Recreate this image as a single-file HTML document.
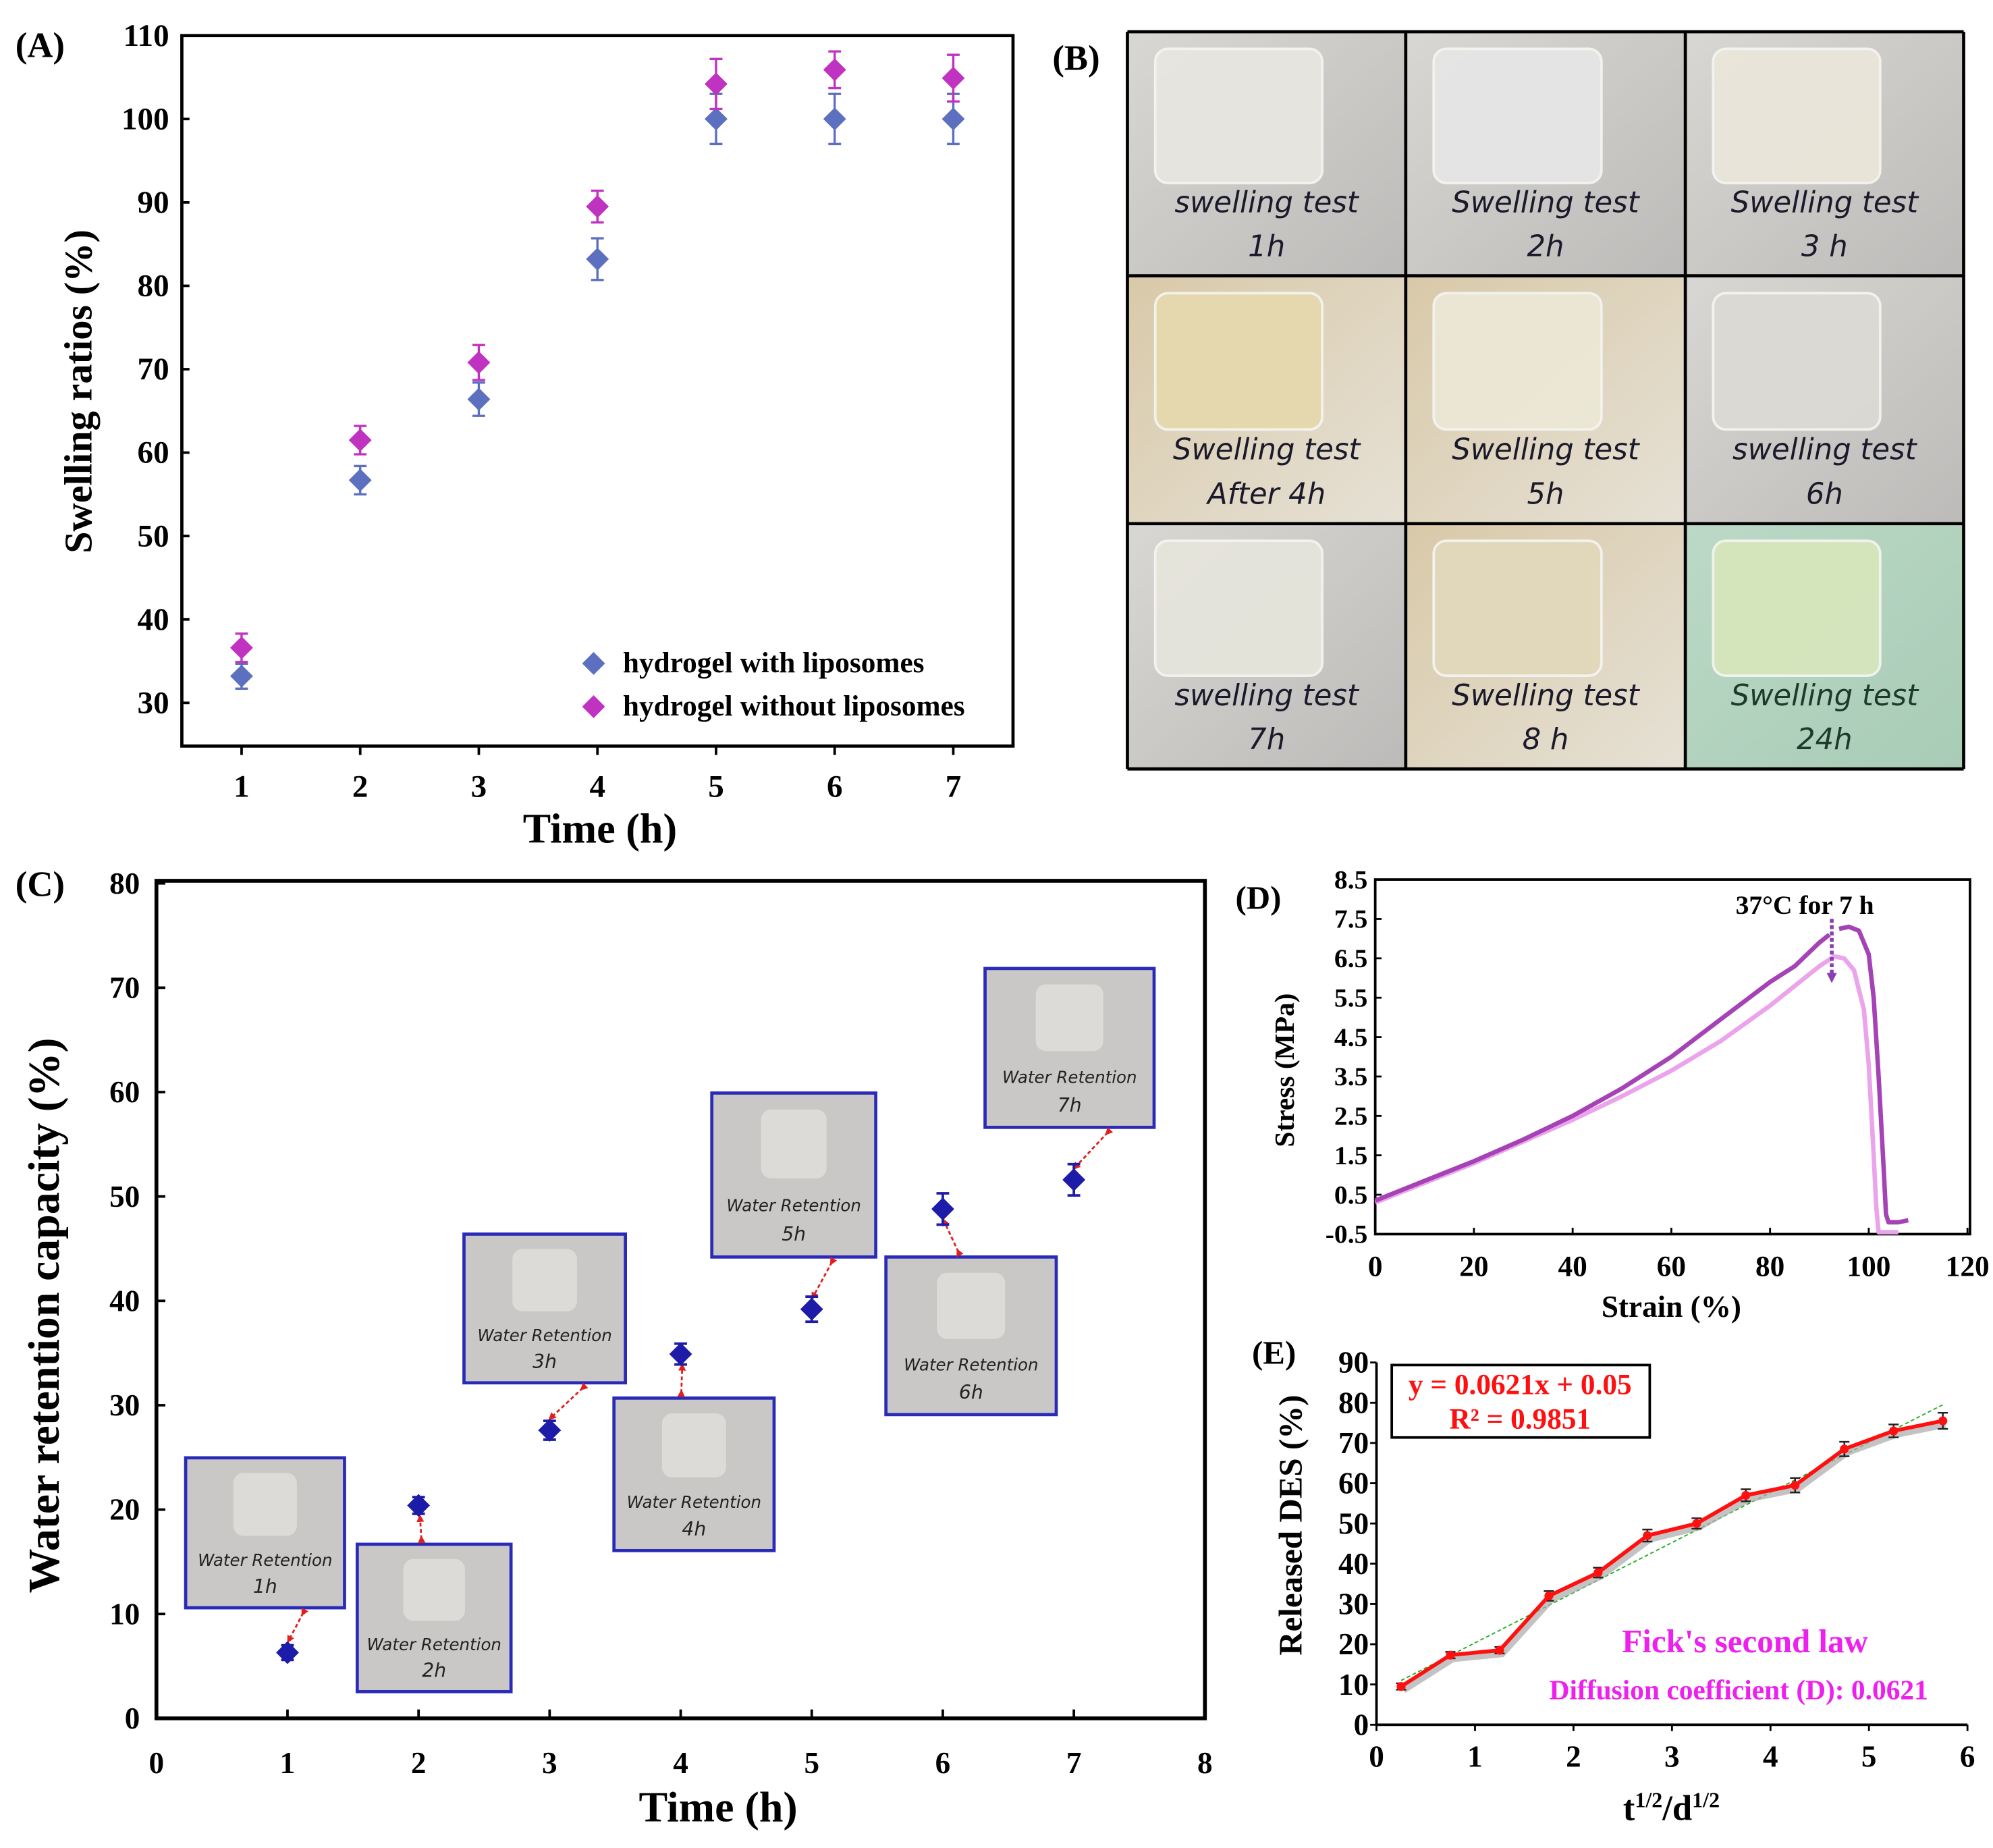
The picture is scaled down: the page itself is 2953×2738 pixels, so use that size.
<!DOCTYPE html>
<html><head><meta charset="utf-8">
<style>
html,body{margin:0;padding:0;background:#fff;}
svg{display:block;font-family:"Liberation Serif",serif;font-weight:bold;}
</style></head>
<body>
<svg id="fig" width="2953" height="2738" viewBox="0 0 1568 1454" xmlns="http://www.w3.org/2000/svg">
<defs>
<linearGradient id="gGray" x1="0" y1="0" x2="1" y2="1"><stop offset="0" stop-color="#d9d7d3"/><stop offset="1" stop-color="#bdbbb9"/></linearGradient>
<linearGradient id="gBeige" x1="0" y1="0" x2="1" y2="1"><stop offset="0" stop-color="#d8c9a8"/><stop offset="1" stop-color="#e6e1d6"/></linearGradient>
<linearGradient id="gGreen" x1="0" y1="0" x2="1" y2="1"><stop offset="0" stop-color="#bcd9c6"/><stop offset="1" stop-color="#a8ccb6"/></linearGradient>
<marker id="arr" markerUnits="userSpaceOnUse" markerWidth="6" markerHeight="6" refX="3" refY="3" orient="auto"><path d="M0,0 L6,3 L0,6 z" fill="#e02020"/></marker>
<marker id="arrP" markerUnits="userSpaceOnUse" markerWidth="8" markerHeight="8" refX="4" refY="4" orient="auto"><path d="M0,0 L8,4 L0,8 z" fill="#8a3fb0"/></marker>
</defs>
<g id="pA"></g>
<g id="pB"></g>
<g id="pC"></g>
<g id="pD"></g>
<g id="pE"></g>
</svg>
<script>
// ---- Panel A data
const aTimes = [1,2,3,4,5,6,7];
const aWith = [33.2,56.7,66.4,83.2,100,100,100];
const aWithErr = [1.5,1.7,2.0,2.5,3.0,3.0,3.0];
const aWithout = [36.6,61.5,70.8,89.5,104.2,105.9,104.9];
const aWithoutErr = [1.7,1.7,2.1,1.9,3.0,2.2,2.8];
const aYTicks = [30,40,50,60,70,80,90,100,110];
// ---- Panel B labels
const bLabels = [["swelling test","1h"],["Swelling test","2h"],["Swelling test","3 h"],["Swelling test","After 4h"],["Swelling test","5h"],["swelling test","6h"],["swelling test","7h"],["Swelling test","8 h"],["Swelling test","24h"]];
// ---- Panel C data
const cTimes = [1,2,3,4,5,6,7];
const cValues = [6.3,20.4,27.6,34.9,39.2,48.8,51.6];
const cErr = [0.7,0.8,0.9,1.0,1.2,1.5,1.5];
const cYTicks = [0,10,20,30,40,50,60,70,80];
const cXTicks = [0,1,2,3,4,5,6,7,8];
const cPhotoLabels = ["1h","2h","3h","4h","5h","6h","7h"];
// ---- Panel D data
const dStrainDark = [0,10,20,30,40,50,60,70,80,85,90,92];
const dStressDark = [0.35,0.85,1.35,1.9,2.5,3.2,4.0,4.95,5.9,6.3,6.9,7.1];
const dStrainDark2 = [94,96,98,100,101,102,103,103.5,104,106,108];
const dStressDark2 = [7.25,7.3,7.2,6.6,5.5,3.5,1.2,0.0,-0.2,-0.2,-0.15];
const dStrainLight = [0,10,20,30,40,50,60,70,80,85,90,93,95,97,99,100,101,101.5,102,104,106];
const dStressLight = [0.3,0.8,1.3,1.85,2.4,3.0,3.65,4.4,5.3,5.8,6.3,6.55,6.5,6.2,5.2,3.8,1.5,0.2,-0.45,-0.45,-0.45];
const dYTicks = [-0.5,0.5,1.5,2.5,3.5,4.5,5.5,6.5,7.5,8.5];
const dXTicks = [0,20,40,60,80,100,120];
// ---- Panel E data
const eX = [0.25,0.75,1.25,1.75,2.25,2.75,3.25,3.75,4.25,4.75,5.25,5.75];
const eY = [9.5,17.3,18.5,32.0,37.8,47.0,50.0,57.0,59.5,68.5,73.0,75.5];
const eErr = [0.8,0.8,0.8,1.2,1.2,1.5,1.3,1.5,1.8,1.8,1.6,2.0];
const eFitX = [0.25,5.75];
const eFitY = [11,79.5];
const eYTicks = [0,10,20,30,40,50,60,70,80,90];
const eXTicks = [0,1,2,3,4,5,6];

const NS="http://www.w3.org/2000/svg";
function mk(parent,tag,attrs,txt){const e=document.createElementNS(NS,tag);for(const k in attrs)e.setAttribute(k,attrs[k]);if(txt!==undefined)e.textContent=txt;parent.appendChild(e);return e;}
function lin(d0,d1,r0,r1){return v=>r0+(v-d0)/(d1-d0)*(r1-r0);}
function diamond(g,x,y,s,fill){return mk(g,'path',{d:`M${x},${y-s} L${x+s},${y} L${x},${y+s} L${x-s},${y} Z`,fill:fill});}
function errbar(g,x,y1,y2,w,col,sw){mk(g,'path',{d:`M${x},${y1} V${y2} M${x-w},${y1} H${x+w} M${x-w},${y2} H${x+w}`,stroke:col,'stroke-width':sw,fill:'none'});}

// ===== Panel A
(function(){
const g=document.getElementById('pA');
const L=143,T=28,R=797,B=587;
const x=lin(1,7,190,750), y=lin(30,110,553,28);
let t=mk(g,'text',{x:12,y:45,'font-size':28},'(A)');

let f=mk(g,'rect',{x:L,y:T,width:R-L,height:B-T,fill:'none',stroke:'#000','stroke-width':2.5});

aYTicks.forEach(v=>{mk(g,'line',{x1:L,x2:L+6,y1:y(v),y2:y(v),stroke:'#000','stroke-width':2});
 const e=mk(g,'text',{x:L-10,y:y(v)+8,'font-size':25,'text-anchor':'end'},v);
 });
aTimes.forEach(v=>{mk(g,'line',{x1:x(v),x2:x(v),y1:B,y2:B+7,stroke:'#000','stroke-width':2});
 const e=mk(g,'text',{x:x(v),y:627,'font-size':25,'text-anchor':'middle'},v);
 });
t=mk(g,'text',{x:472,y:663,'font-size':33,'text-anchor':'middle'},'Time (h)');

t=mk(g,'text',{x:0,y:0,'font-size':31,'text-anchor':'middle',transform:'translate(72,308) rotate(-90)'},'Swelling ratios (%)');

const cb='#5c70bf', cm='#c033c0';
aTimes.forEach((tv,i)=>{
 errbar(g,x(tv),y(aWith[i]+aWithErr[i]),y(aWith[i]-aWithErr[i]),5,cb,1.8);
 const d=diamond(g,x(tv),y(aWith[i]),9,cb);
 
 errbar(g,x(tv),y(aWithout[i]+aWithoutErr[i]),y(aWithout[i]-aWithoutErr[i]),5,cm,1.8);
 const d2=diamond(g,x(tv),y(aWithout[i]),9,cm);
 
});
let le=diamond(g,467,522,9,cb);
le=mk(g,'text',{x:490,y:529,'font-size':23},'hydrogel with liposomes');
le=diamond(g,467,556,9,cm);
le=mk(g,'text',{x:490,y:563,'font-size':23},'hydrogel without liposomes');
})();

// ===== Panel B
(function(){
const g=document.getElementById('pB');
let t=mk(g,'text',{x:828,y:55,'font-size':28},'(B)');

const xs=[887,1106,1326,1545], ys=[25,217,412,605];
const fills=['url(#gGray)','url(#gGray)','url(#gGray)','url(#gBeige)','url(#gBeige)','url(#gGray)','url(#gGray)','url(#gBeige)','url(#gGreen)'];
const gels=['#e8e6e0','#e6e6e6','#ebe6da','#e6d9ae','#ece8d6','#dcdad4','#e6e5dc','#e2d9bc','#d6e6bc'];
for(let r=0;r<3;r++)for(let c=0;c<3;c++){
 const i=r*3+c, x0=xs[c], y0=ys[r], w=xs[c+1]-xs[c], h=ys[r+1]-ys[r];
 const cell=mk(g,'g',{});
 
 
 mk(cell,'rect',{x:x0,y:y0,width:w,height:h,fill:fills[i]});
 mk(cell,'rect',{x:x0+w*0.1,y:y0+h*0.07,width:w*0.6,height:h*0.55,rx:10,fill:gels[i],stroke:'#f4f4f0','stroke-width':2,opacity:0.95});
 mk(cell,'text',{x:x0+w*0.5,y:y0+h*0.74,'font-size':23,'text-anchor':'middle','font-family':'DejaVu Sans','font-weight':'normal','font-style':'italic',fill:i==8?'#1e3a2a':'#1a1a2a'},bLabels[i][0]);
 mk(cell,'text',{x:x0+w*0.5,y:y0+h*0.92,'font-size':23,'text-anchor':'middle','font-family':'DejaVu Sans','font-weight':'normal','font-style':'italic',fill:i==8?'#1e3a2a':'#1a1a2a'},bLabels[i][1]);
}
for(let c=0;c<4;c++)mk(g,'line',{x1:xs[c],x2:xs[c],y1:25,y2:605,stroke:'#000','stroke-width':2.5});
for(let r=0;r<4;r++)mk(g,'line',{x1:887,x2:1545,y1:ys[r],y2:ys[r],stroke:'#000','stroke-width':2.5});
})();

// ===== Panel C
(function(){
const g=document.getElementById('pC');
const L=123,T=693,R=948,B=1352;
const x=lin(0,8,123,948), y=lin(0,80,1352,695);
let t=mk(g,'text',{x:12,y:705,'font-size':28},'(C)');

let f=mk(g,'rect',{x:L,y:T,width:R-L,height:B-T,fill:'none',stroke:'#000','stroke-width':3});

cYTicks.forEach(v=>{mk(g,'line',{x1:L,x2:L+7,y1:y(v),y2:y(v),stroke:'#000','stroke-width':2});
 const e=mk(g,'text',{x:L-13,y:y(v)+8,'font-size':24,'text-anchor':'end'},v);
 });
cXTicks.forEach(v=>{mk(g,'line',{x1:x(v),x2:x(v),y1:B,y2:B-7,stroke:'#000','stroke-width':2});
 const e=mk(g,'text',{x:x(v),y:1395,'font-size':24,'text-anchor':'middle'},v);
 });
t=mk(g,'text',{x:565,y:1433,'font-size':34,'text-anchor':'middle'},'Time (h)');

t=mk(g,'text',{x:0,y:0,'font-size':35,'text-anchor':'middle',transform:'translate(46,1035) rotate(-90)'},'Water retention capacity (%)');

const photos=[[146,1147,271,1265],[281,1215,402,1331],[365,971,492,1088],[483,1100,609,1220],[560,860,689,989],[697,989,831,1113],[775,762,908,887]];
const col='#1c1ca8';
cTimes.forEach((tv,i)=>{
 const p=photos[i];
 const pg=mk(g,'g',{});
 
 mk(pg,'rect',{x:p[0],y:p[1],width:p[2]-p[0],height:p[3]-p[1],fill:'#c9c8c6',stroke:'#2a2ab8','stroke-width':2.5});
 const w=p[2]-p[0],h=p[3]-p[1];
 mk(pg,'rect',{x:p[0]+w*0.3,y:p[1]+h*0.1,width:w*0.4,height:h*0.42,rx:8,fill:'#dcdbd8'});
 mk(pg,'text',{x:p[0]+w/2,y:p[1]+h*0.72,'font-size':13,'text-anchor':'middle','font-family':'DejaVu Sans','font-weight':'normal','font-style':'italic',fill:'#222'},'Water Retention');
 mk(pg,'text',{x:p[0]+w/2,y:p[1]+h*0.9,'font-size':15,'text-anchor':'middle','font-family':'DejaVu Sans','font-weight':'normal','font-style':'italic',fill:'#222'},cPhotoLabels[i]);
 const px=x(tv), py=y(cValues[i]);
 const ax=(p[0]+p[2])/2+ (i%2===0?30:-10), ay= py>p[3]? p[3]+4 : p[1]-4;
 const ar=mk(g,'line',{x1:ax,y1:ay,x2:px+(px>ax?-4:4)*0.3,y2:py+(py>ay?-10:10),stroke:'#e02020','stroke-width':1.5,'stroke-dasharray':'3,2','marker-end':'url(#arr)','marker-start':'url(#arr)'});
 
 errbar(g,px,y(cValues[i]+cErr[i]),y(cValues[i]-cErr[i]),5,col,2);
 const d=diamond(g,px,py,9,col);
 
});
})();

// ===== Panel D
(function(){
const g=document.getElementById('pD');
const L=1082,T=692,R=1550,B=971;
const x=lin(0,120,1082,1548), y=lin(-0.5,8.5,971,692);
let t=mk(g,'text',{x:972,y:715,'font-size':26},'(D)');

let f=mk(g,'rect',{x:L,y:T,width:R-L,height:B-T,fill:'none',stroke:'#000','stroke-width':2});

dYTicks.forEach(v=>{mk(g,'line',{x1:L,x2:L+5,y1:y(v),y2:y(v),stroke:'#000','stroke-width':1.5});
 const e=mk(g,'text',{x:L-6,y:y(v)+7,'font-size':21,'text-anchor':'end'},v.toFixed(1));
 });
dXTicks.forEach(v=>{mk(g,'line',{x1:x(v),x2:x(v),y1:B,y2:B-5,stroke:'#000','stroke-width':1.5});
 const e=mk(g,'text',{x:x(v),y:1004,'font-size':23,'text-anchor':'middle'},v);
 });
t=mk(g,'text',{x:1315,y:1036,'font-size':24,'text-anchor':'middle'},'Strain (%)');

t=mk(g,'text',{x:0,y:0,'font-size':22,'text-anchor':'middle',transform:'translate(1018,842) rotate(-90)','font-weight':'bold'},'Stress (MPa)');

function path(xs,ys){return xs.map((v,i)=>(i?'L':'M')+x(v).toFixed(1)+','+y(ys[i]).toFixed(1)).join(' ');}
let p=mk(g,'path',{d:path(dStrainLight,dStressLight),fill:'none',stroke:'#eba4ec','stroke-width':3.5,'stroke-linejoin':'round'});

p=mk(g,'path',{d:path(dStrainDark,dStressDark),fill:'none',stroke:'#a542b5','stroke-width':3.5,'stroke-linejoin':'round'});

p=mk(g,'path',{d:path(dStrainDark2,dStressDark2),fill:'none',stroke:'#a542b5','stroke-width':3.5,'stroke-linejoin':'round'});

p=mk(g,'line',{x1:x(92.5),x2:x(92.5),y1:y(7.5),y2:y(6.0),stroke:'#8a3fb0','stroke-width':3,'stroke-dasharray':'3,2','marker-end':'url(#arrP)'});

t=mk(g,'text',{x:1420,y:719,'font-size':21,'text-anchor':'middle'},'37°C for 7 h');

})();

// ===== Panel E
(function(){
const g=document.getElementById('pE');
const L=1083,T=1072,R=1548,B=1357;
const x=lin(0,6,1083,1548), y=lin(0,90,1357,1072);
let t=mk(g,'text',{x:985,y:1073,'font-size':26},'(E)');

mk(g,'line',{x1:L,x2:L,y1:T,y2:B,stroke:'#000','stroke-width':2});
mk(g,'line',{x1:L,x2:R,y1:B,y2:B,stroke:'#000','stroke-width':2});
eYTicks.forEach(v=>{mk(g,'line',{x1:L,x2:L-5,y1:y(v),y2:y(v),stroke:'#000','stroke-width':1.5});
 const e=mk(g,'text',{x:L-6,y:y(v)+8,'font-size':24,'text-anchor':'end'},v);
 });
eXTicks.forEach(v=>{mk(g,'line',{x1:x(v),x2:x(v),y1:B,y2:B+5,stroke:'#000','stroke-width':1.5});
 const e=mk(g,'text',{x:x(v),y:1390,'font-size':24,'text-anchor':'middle'},v);
 });
t=mk(g,'text',{x:1315,y:1432,'font-size':28,'text-anchor':'middle'});
t.innerHTML='t<tspan font-size="17" dy="-10">1/2</tspan><tspan dy="10">/d</tspan><tspan font-size="17" dy="-10">1/2</tspan>';

t=mk(g,'text',{x:0,y:0,'font-size':26,'text-anchor':'middle',transform:'translate(1024,1200) rotate(-90)'},'Released DES (%)');

let p=mk(g,'line',{x1:x(eFitX[0]),y1:y(eFitY[0]),x2:x(eFitX[1]),y2:y(eFitY[1]),stroke:'#22b022','stroke-width':1,'stroke-dasharray':'3,2'});

const pts=eX.map((v,i)=>x(v).toFixed(1)+','+y(eY[i]).toFixed(1)).join(' ');
mk(g,'polyline',{points:eX.map((v,i)=>(x(v)+2)+','+(y(eY[i])+3)).join(' '),fill:'none',stroke:'#aaa','stroke-width':5,opacity:0.7});
eX.forEach((v,i)=>errbar(g,x(v),y(eY[i]+eErr[i]),y(eY[i]-eErr[i]),4,'#222',1.3));
p=mk(g,'polyline',{points:pts,fill:'none',stroke:'#ff1010','stroke-width':3});

eX.forEach((v,i)=>{const c=mk(g,'circle',{cx:x(v),cy:y(eY[i]),r:3.5,fill:'#ff1010'});
 });
const bx=mk(g,'g',{});

mk(bx,'rect',{x:1095,y:1074,width:203,height:57,fill:'#fff',stroke:'#000','stroke-width':2});
mk(bx,'text',{x:1196,y:1097,'font-size':23,'text-anchor':'middle',fill:'#ff1010'},'y = 0.0621x + 0.05');
mk(bx,'text',{x:1196,y:1124,'font-size':23,'text-anchor':'middle',fill:'#ff1010'},'R² = 0.9851');
t=mk(g,'text',{x:1373,y:1300,'font-size':26,'text-anchor':'middle',fill:'#ee20ee'},"Fick's second law");

t=mk(g,'text',{x:1368,y:1337,'font-size':22,'text-anchor':'middle',fill:'#ee20ee'},'Diffusion coefficient (D): 0.0621');

})();
</script>
</body></html>
